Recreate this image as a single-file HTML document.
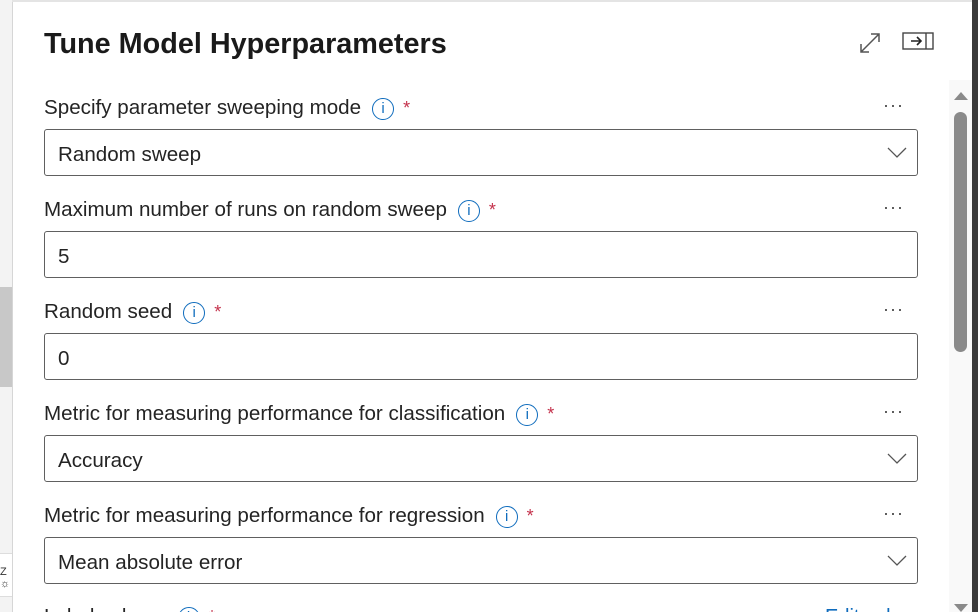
<!DOCTYPE html>
<html><head><style>
html,body{margin:0;width:978px;height:612px;overflow:hidden}
body{background:#fff;font-family:"Liberation Sans",sans-serif;position:relative}
.a{position:absolute}
.lbl{position:absolute;left:44px;font-size:20.6px;color:#242424;white-space:nowrap;line-height:24px}
.info{display:inline-block;width:22px;height:22px;border:1.5px solid #0f6cbd;border-radius:50%;color:#0f6cbd;font-size:15px;text-align:center;vertical-align:-4px;margin-left:11px;box-sizing:border-box;line-height:19px;position:relative;top:-5px}
.star{color:#c4314b;margin-left:9px;font-size:18px}
.box{position:absolute;left:44px;width:874px;height:47px;border:1px solid #606060;border-radius:3px;box-sizing:border-box;font-size:20.6px;color:#242424;line-height:49px;padding-left:13px}
.dots{position:absolute;left:883px;font-size:18px;color:#444;letter-spacing:1px}
.chev{position:absolute;right:10px;top:16px}
</style></head><body>
<div class="a" style="left:0;top:0;width:12px;height:612px;background:#f3f3f3"></div>
<div class="a" style="left:0;top:287px;width:12px;height:100px;background:#c8c8c8"></div>
<div class="a" style="left:0;top:553px;width:12px;height:44px;background:#fff;border-top:1px solid #ddd;border-bottom:1px solid #ddd;font-size:11px;color:#333;line-height:12px;padding-top:12px;box-sizing:border-box">Z<br>☼</div>
<div class="a" style="left:12px;top:0;width:1px;height:612px;background:#d6d6d6"></div>
<div class="a" style="left:12px;top:0;width:960px;height:2px;background:#e4e4e4"></div>
<div class="a" style="left:972px;top:0;width:6px;height:612px;background:#3b3b3b"></div>
<div class="a" style="left:949px;top:80px;width:23px;height:532px;background:#f9f9f9"></div>
<div class="a" style="left:954px;top:92px;width:0;height:0;border-left:7px solid transparent;border-right:7px solid transparent;border-bottom:8px solid #8a8a8a"></div>
<div class="a" style="left:954px;top:112px;width:13px;height:240px;background:#8a8a8a;border-radius:7px"></div>
<div class="a" style="left:954px;top:604px;width:0;height:0;border-left:7px solid transparent;border-right:7px solid transparent;border-top:8px solid #8a8a8a"></div>

<div class="a" style="left:44px;top:28px;font-size:28.8px;font-weight:bold;color:#1a1a1a">Tune Model Hyperparameters</div>
<svg class="a" style="left:858px;top:31px" width="24" height="24"><path d="M3 21L21 3M13 3h8v8M3 13v8h8" fill="none" stroke="#555" stroke-width="1.5"/></svg>
<svg class="a" style="left:902px;top:32px" width="32" height="19"><rect x="1" y="1" width="30" height="16" fill="none" stroke="#444" stroke-width="1.4"/><line x1="24" y1="1" x2="24" y2="17" stroke="#444" stroke-width="1.4"/><path d="M9 9h10M15 5l4 4-4 4" fill="none" stroke="#222" stroke-width="1.6"/></svg>

<div class="lbl" style="top:96px">Specify parameter sweeping mode<span class="info">i</span><span class="star">*</span></div>
<div class="dots" style="top:95px">···</div>
<div class="box" style="top:129px">Random sweep<svg class="chev" width="20" height="14"><path d="M1 2l9 9 9-9" fill="none" stroke="#555" stroke-width="1.3"/></svg></div>

<div class="lbl" style="top:198px">Maximum number of runs on random sweep<span class="info">i</span><span class="star">*</span></div>
<div class="dots" style="top:197px">···</div>
<div class="box" style="top:231px">5</div>

<div class="lbl" style="top:300px">Random seed<span class="info">i</span><span class="star">*</span></div>
<div class="dots" style="top:299px">···</div>
<div class="box" style="top:333px">0</div>

<div class="lbl" style="top:402px">Metric for measuring performance for classification<span class="info">i</span><span class="star">*</span></div>
<div class="dots" style="top:401px">···</div>
<div class="box" style="top:435px">Accuracy<svg class="chev" width="20" height="14"><path d="M1 2l9 9 9-9" fill="none" stroke="#555" stroke-width="1.3"/></svg></div>

<div class="lbl" style="top:504px">Metric for measuring performance for regression<span class="info">i</span><span class="star">*</span></div>
<div class="dots" style="top:503px">···</div>
<div class="box" style="top:537px">Mean absolute error<svg class="chev" width="20" height="14"><path d="M1 2l9 9 9-9" fill="none" stroke="#555" stroke-width="1.3"/></svg></div>

<div class="lbl" style="top:605px">Label column<span class="info">i</span><span class="star">*</span></div>
<div class="a" style="left:825px;top:605px;font-size:20px;color:#0f6cbd;line-height:24px">Edit column</div>
</body></html>
